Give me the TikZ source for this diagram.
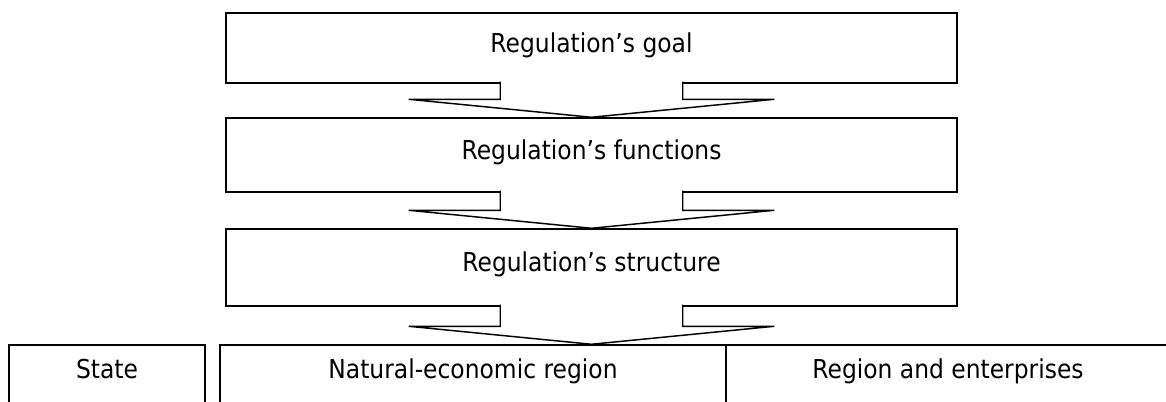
\documentclass[tikz,border=0pt]{standalone}
\usepackage{fontspec}
\setmainfont{DejaVu Sans}[FakeStretch=0.9]
\usetikzlibrary{calc}
\newcommand{\blockarrow}[2]{%
  \filldraw[arr] ($(#1.south)+(-91.25,-2)$) -- ($(#1.south |- #2.north)+(-91.25,-18)$)
    -- ($(#1.south |- #2.north)+(-182.75,-18)$) -- (#1.south |- #2.north)
    -- ($(#1.south |- #2.north)+(182.75,-18)$) -- ($(#1.south |- #2.north)+(91.25,-18)$)
    -- ($(#1.south)+(91.25,-2)$);}
\begin{document}
\begin{tikzpicture}[x=0.75pt,y=-0.75pt,
    box/.style={draw,line width=1.1pt,inner sep=0pt,minimum width=548.25pt,
      text height=1.45ex,text depth=0.35ex,font=\fontsize{19.5}{23}\selectfont},
    cell/.style={box,minimum height=43.5pt},
    arr/.style={fill=white,line width=1.1pt,line join=miter}]
    \useasboundingbox (0,0) rectangle (1166,401);
    \node[box,minimum height=52.5pt] (goal) at (591.5,48) {Regulation’s goal};
    \node[box,minimum height=55.5pt] (func) at (591.5,155) {Regulation’s functions};
    \node[box,minimum height=57.75pt] (struct) at (591.5,267.5) {Regulation’s structure};
    \node[cell,minimum width=147pt] (state) at (107,374) {State};
    \node[cell,minimum width=379.5pt] (natreg) at (473,374) {Natural-economic region};
    \node[cell,minimum width=333pt] (regent) at (948,374) {Region and enterprises};
    \blockarrow{goal}{func}
    \blockarrow{func}{struct}
    \blockarrow{struct}{natreg}
\end{tikzpicture}
\end{document}
